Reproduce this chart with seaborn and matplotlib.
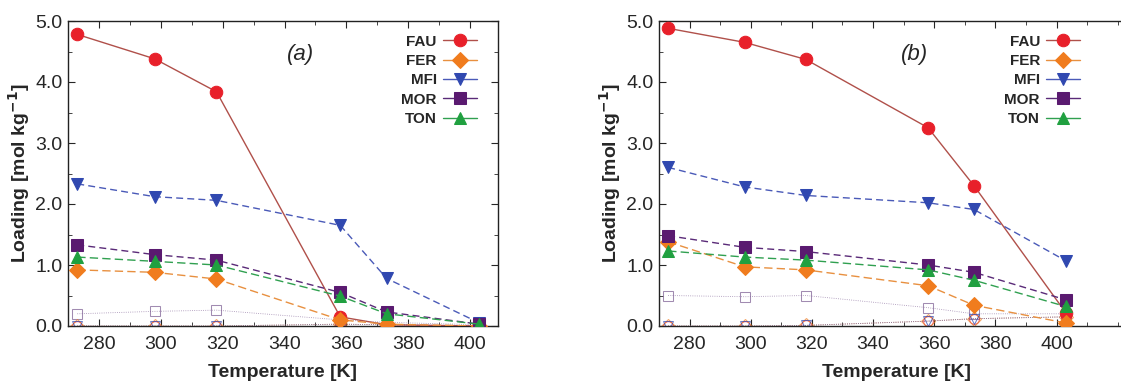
import numpy as np
import pandas as pd
import matplotlib
matplotlib.use('Agg')
import matplotlib.pyplot as plt
import seaborn as sns
from matplotlib.ticker import MultipleLocator, FixedLocator

sns.set_style('ticks')
plt.rcParams['font.family'] = ['Liberation Sans', 'DejaVu Sans']

# temperatures [K]
temps = [273, 298, 318, 358, 373, 403]
zeolites = ['FAU', 'FER', 'MFI', 'MOR', 'TON']
xticks = [280, 300, 320, 340, 360, 380, 400]

# panel (a) loadings [mol/kg]
a_fau = [4.78, 4.38, 3.84, 0.15, 0.02, 0.00]
a_fer = [0.92, 0.88, 0.77, 0.10, 0.03, 0.00]
a_mfi = [2.33, 2.12, 2.06, 1.65, 0.78, 0.05]
a_mor = [1.33, 1.17, 1.08, 0.55, 0.23, 0.03]
a_ton = [1.13, 1.06, 1.00, 0.49, 0.20, 0.03]

# panel (b) loadings [mol/kg]
b_fau = [4.88, 4.65, 4.37, 3.25, 2.30, 0.22]
b_fer = [1.38, 0.97, 0.92, 0.66, 0.34, 0.05]
b_mfi = [2.60, 2.28, 2.14, 2.02, 1.91, 1.07]
b_mor = [1.48, 1.29, 1.22, 1.00, 0.88, 0.43]
b_ton = [1.23, 1.13, 1.08, 0.92, 0.75, 0.32]

# faint open-symbol series near the bottom
a_open_mor = [0.20, 0.24, 0.26, 0.10, 0.06, 0.02]
a_open_low = [0.00, 0.00, 0.00, 0.03, 0.02, 0.00]
b_open_mor = [0.50, 0.48, 0.50, 0.30, 0.20, 0.20]
b_open_low = [0.00, 0.00, 0.01, 0.08, 0.12, 0.15]

colors = {'FAU': '#e8202a', 'FER': '#f07c1e', 'MFI': '#3048b0', 'MOR': '#5a1a70', 'TON': '#20a040'}
line_colors = {'FAU': '#b0504a', 'FER': '#e89040', 'MFI': '#4a5ab8', 'MOR': '#5a2a78', 'TON': '#30a050'}
markers = {'FAU': 'o', 'FER': 'D', 'MFI': 'v', 'MOR': 's', 'TON': '^'}
msizes = {'FAU': 9, 'FER': 8, 'MFI': 9, 'MOR': 9, 'TON': 9}
styles = {'FAU': '-', 'FER': (0, (6, 3)), 'MFI': (0, (5, 3)), 'MOR': (0, (5, 3)), 'TON': (0, (6, 3))}

panels = [
    ('(a)', [a_fau, a_fer, a_mfi, a_mor, a_ton], a_open_mor, a_open_low, (270, 409)),
    ('(b)', [b_fau, b_fer, b_mfi, b_mor, b_ton], b_open_mor, b_open_low, (270, 425)),
]

fig = plt.figure(figsize=(11.21, 3.83), dpi=100)
ax_a = fig.add_axes([68 / 1121, 57 / 383, 430 / 1121, 305 / 383])
ax_b = fig.add_axes([659 / 1121, 57 / 383, 474 / 1121, 305 / 383])

for ax, (tag, series, open_mor, open_low, xlim) in zip([ax_a, ax_b], panels):
    # faint open symbols
    sns.lineplot(x=temps, y=open_mor, ax=ax, color='#7a5a90', lw=0.6, ls=':',
                 marker='s', ms=7, mfc='none', mec='#7a5a90', alpha=0.7, zorder=1)
    for z in ['FAU', 'FER', 'MFI']:
        sns.lineplot(x=temps, y=open_low, ax=ax, color=line_colors[z], lw=0.6, ls=':',
                     marker=markers[z], ms=7, mfc='none', mec=colors[z], alpha=0.7, zorder=1)

    for z, vals in zip(zeolites, series):
        sns.lineplot(x=temps, y=vals, ax=ax, color=line_colors[z], lw=1.0, ls=styles[z],
                     marker=markers[z], ms=msizes[z], mfc=colors[z], mec=colors[z],
                     label=z, zorder=3)

    ax.set_xlim(*xlim)
    ax.set_ylim(0, 5.0)
    ax.xaxis.set_major_locator(FixedLocator(xticks))
    ax.xaxis.set_minor_locator(MultipleLocator(10))
    ax.yaxis.set_major_locator(MultipleLocator(1.0))
    ax.yaxis.set_minor_locator(MultipleLocator(0.5))
    ax.yaxis.set_major_formatter(matplotlib.ticker.FormatStrFormatter('%.1f'))
    ax.tick_params(which='both', direction='in', top=True, right=True, labelsize=14)
    ax.tick_params(axis='x', pad=7)
    ax.tick_params(axis='y', pad=4)
    ax.tick_params(which='major', length=5)
    ax.tick_params(which='minor', length=3)
    for sp in ax.spines.values():
        sp.set_linewidth(1.0)
        sp.set_color('#222222')
    ax.set_xlabel('Temperature [K]', fontsize=14, fontweight='bold', labelpad=8)
    ax.set_ylabel('Loading [mol kg$^{\\mathbf{-1}}$]', fontsize=14, fontweight='bold', labelpad=2)
    ax.text(0.54, 0.89, tag, transform=ax.transAxes, fontsize=16, style='italic', ha='center', va='center')

    handles, labels = ax.get_legend_handles_labels()
    leg = ax.legend(handles, labels, loc='upper right', markerfirst=False, frameon=False,
                    prop={'weight': 'bold', 'size': 11}, handlelength=2.2, handletextpad=0.4,
                    labelspacing=0.35, borderaxespad=0.3,
                    bbox_to_anchor=(0.975, 0.99) if tag == '(a)' else (0.91, 0.99))
    for h in leg.get_lines():
        h.set_linestyle('-')

fig.savefig('out.png', dpi=100)
